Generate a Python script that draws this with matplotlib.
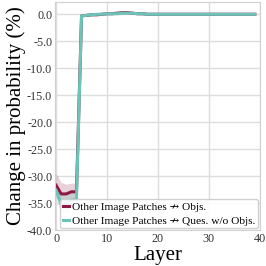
import matplotlib
matplotlib.use("Agg")
import matplotlib.pyplot as plt
import numpy as np
from matplotlib.ticker import FormatStrFormatter

plt.rcParams['font.family'] = ['Liberation Serif', 'DejaVu Serif']
plt.rcParams['axes.unicode_minus'] = False

layers = np.arange(40)

# Other Image Patches -> Objs.
red_mean = [-31.7, -33.3, -33.3, -32.9, -32.9, -0.3, -0.2, -0.1, -0.1, 0.0,
            0.1, 0.1, 0.2, 0.3, 0.3, 0.2, 0.1, 0.1, 0.0, 0.0,
            0.0, 0.0, 0.0, 0.0, 0.0, 0.0, 0.0, 0.0, 0.0, 0.0,
            0.0, 0.0, 0.0, 0.0, 0.0, 0.0, 0.0, 0.0, 0.0, 0.0]
red_err = [2.2, 2.1, 1.8, 1.6, 1.6, 0.2, 0.1, 0.1, 0.1, 0.1,
           0.1, 0.1, 0.1, 0.1, 0.1, 0.1, 0.0, 0.0, 0.0, 0.0,
           0.0, 0.0, 0.0, 0.0, 0.0, 0.0, 0.0, 0.0, 0.0, 0.0,
           0.0, 0.0, 0.0, 0.0, 0.0, 0.0, 0.0, 0.0, 0.0, 0.0]

# Other Image Patches -> Ques. w/o Objs.
teal_mean = [-32.6, -35.2, -35.2, -34.4, -34.4, -0.3, -0.2, -0.1, 0.0, 0.0,
             0.1, 0.1, 0.1, 0.2, 0.2, 0.2, 0.1, 0.1, 0.0, 0.0,
             0.0, 0.0, 0.0, 0.0, 0.0, 0.0, 0.0, 0.0, 0.0, 0.0,
             0.0, 0.0, 0.0, 0.0, 0.0, 0.0, 0.0, 0.0, 0.0, 0.0]
teal_err = [1.6, 1.7, 1.6, 1.4, 1.4, 0.1, 0.1, 0.1, 0.1, 0.1,
            0.1, 0.1, 0.1, 0.1, 0.1, 0.0, 0.0, 0.0, 0.0, 0.0,
            0.0, 0.0, 0.0, 0.0, 0.0, 0.0, 0.0, 0.0, 0.0, 0.0,
            0.0, 0.0, 0.0, 0.0, 0.0, 0.0, 0.0, 0.0, 0.0, 0.0]

labels = ["Other Image Patches \u219b Objs.",
          "Other Image Patches \u219b Ques. w/o Objs."]
red_c = "#8c1a45"
teal_c = "#6cc3b7"

fig = plt.figure(figsize=(2.66, 2.66), dpi=100)
ax = fig.add_axes([0.207, 0.135, 0.77, 0.858])

rm, re = np.array(red_mean), np.array(red_err)
tm, te = np.array(teal_mean), np.array(teal_err)
ax.fill_between(layers, rm - re, rm + re, color=red_c, alpha=0.2, lw=0)
ax.fill_between(layers, tm - te, tm + te, color=teal_c, alpha=0.25, lw=0)
ax.plot(layers, rm, color=red_c, lw=2.2, label=labels[0])
ax.plot(layers, tm, color=teal_c, lw=2.2, label=labels[1])

ax.set_xlim(-0.2, 40)
ax.set_ylim(-40, 2.3)
ax.set_xticks([0, 10, 20, 30, 40])
ax.set_yticks(np.arange(-40, 1, 5))
ax.yaxis.set_major_formatter(FormatStrFormatter('%.1f'))
ax.grid(True, color="#dddddd", lw=1)
ax.set_axisbelow(True)
for s in ax.spines.values():
    s.set_color("#d0d0d0")
ax.tick_params(length=0, labelsize=8.7, colors="#333333", pad=2)
ax.set_xlabel("Layer", fontsize=15, labelpad=1)
ax.set_ylabel("Change in probability (%)", fontsize=15, labelpad=1)

ax.legend(loc="lower right", fontsize=8.2, handlelength=0.5, handletextpad=0.3,
          borderpad=0.25, labelspacing=0.3, borderaxespad=0.15, framealpha=0.9)

fig.savefig("out.png", dpi=100)
